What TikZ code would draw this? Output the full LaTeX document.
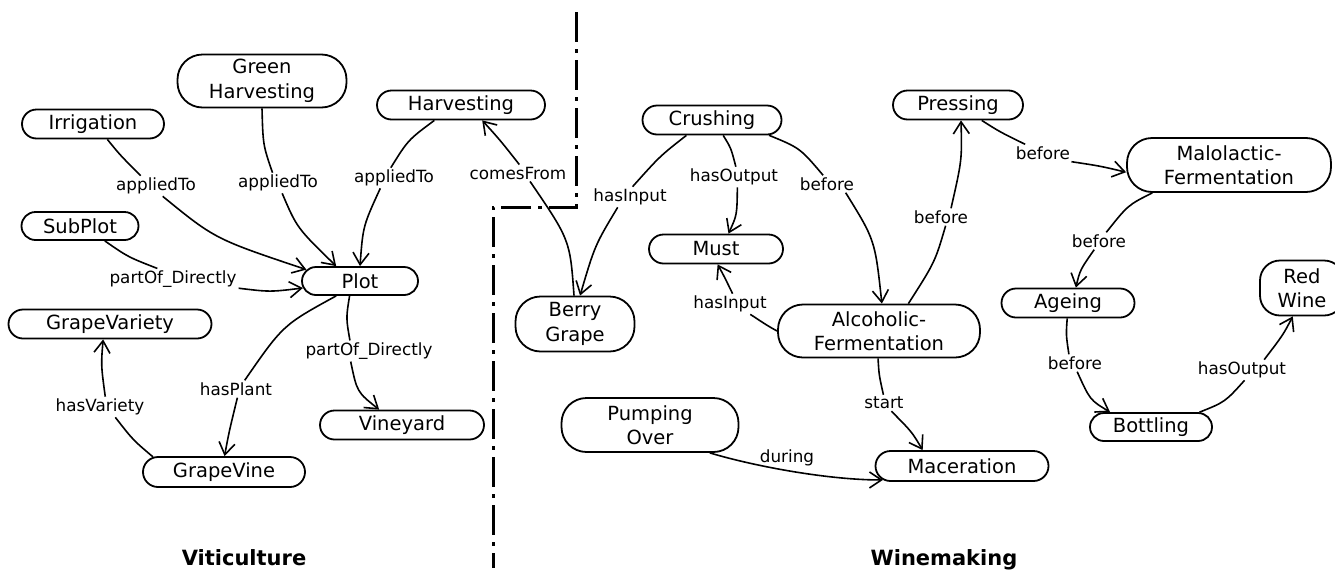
\documentclass[tikz,border=0pt]{standalone}
\usepackage{fontspec}
\setmainfont{DejaVu Sans}
\usetikzlibrary{arrows.meta,shapes.misc}
\begin{document}
\begin{tikzpicture}[x=1pt,y=-1pt,
  nd/.style={draw,line width=1.8pt,rounded rectangle,minimum height=29pt,inner sep=0pt,font=\fontsize{19.5}{24.5}\selectfont},
  ndd/.style={draw,line width=1.8pt,rectangle,rounded corners=25pt,minimum height=54pt,inner sep=0pt,align=center,font=\fontsize{19.5}{24.5}\selectfont},
  lbl/.style={inner sep=2pt,font=\fontsize{16.8}{20}\selectfont},
  cline/.style={line width=1.6pt},
  arr/.style={line width=1.6pt,-{Straight Barb[length=12pt,width=16pt]}},
  divider/.style={line width=3pt,dash pattern=on 30pt off 7pt on 4pt off 7pt},
  ttl/.style={font=\bfseries\fontsize{21}{25}\selectfont}]
\useasboundingbox (0,0) rectangle (1335,571);
\clip (0,0) rectangle (1335,571);

% nodes
\node[nd, minimum width=142pt] (irr) at (93,124) {Irrigation};
\node[ndd, minimum width=169pt, minimum height=53pt] (gh) at (262,81) {Green\\Harvesting};
\node[nd, minimum width=168pt] (harv) at (461,105) {Harvesting};
\node[nd, minimum width=117pt, minimum height=28pt] (sub) at (80,226) {SubPlot};
\node[nd, minimum width=116pt, minimum height=28pt] (plot) at (360,281) {Plot};
\node[nd, minimum width=203pt] (gvar) at (110,324) {GrapeVariety};
\node[nd, minimum width=162pt, minimum height=30pt] (gvine) at (224,472) {GrapeVine};
\node[nd, minimum width=164pt] (vine) at (402,425) {Vineyard};
\node[ndd, minimum width=119pt, minimum height=55pt] (berry) at (575,324) {Berry\\Grape};
\node[nd, minimum width=139pt] (crush) at (712,120) {Crushing};
\node[nd, minimum width=134pt] (must) at (716,249) {Must};
\node[nd, minimum width=130pt] (press) at (958,105) {Pressing};
\node[ndd, minimum width=204pt] (malo) at (1229,165) {Malolactic-\\Fermentation};
\node[ndd, minimum width=202pt, minimum height=53pt] (alc) at (879,331) {Alcoholic-\\Fermentation};
\node[nd, minimum width=133pt] (age) at (1068,303) {Ageing};
\node[ndd, minimum width=84pt, minimum height=55pt, rounded corners=20pt] (red) at (1302,288) {Red\\Wine};
\node[nd, minimum width=122pt, minimum height=28pt] (bott) at (1151,427) {Bottling};
\node[ndd, minimum width=177pt] (pump) at (650,425) {Pumping\\Over};
\node[nd, minimum width=173pt, minimum height=30pt] (mac) at (962,466) {Maceration};

% labels
\node[lbl] (l1) at (156,186) {appliedTo};
\node[lbl] (l2) at (278,183) {appliedTo};
\node[lbl] (l3) at (394,178) {appliedTo};
\node[lbl] (l4) at (173,279) {partOf\_Directly};
\node[lbl] (l5) at (236,389) {hasPlant};
\node[lbl] (l6) at (369,351) {partOf\_Directly};
\node[lbl] (l7) at (100,407) {hasVariety};
\node[lbl] (l8) at (518,173) {comesFrom};
\node[lbl] (l9) at (630,197) {hasInput};
\node[lbl] (l10) at (734,177) {hasOutput};
\node[lbl] (l11) at (827,184) {before};
\node[lbl] (l12) at (730,304) {hasInput};
\node[lbl] (l13) at (941,217) {before};
\node[lbl] (l14) at (1043,153) {before};
\node[lbl] (l15) at (1099,241) {before};
\node[lbl] (l16) at (1075,363) {before};
\node[lbl] (l17) at (1242,370) {hasOutput};
\node[lbl] (l18) at (884,403) {start};
\node[lbl] (l19) at (787,458) {during};

% edges
\draw[cline] (irr.-47) .. controls (120,155) .. (l1.146);
\draw[arr] (l1.-57) .. controls (215,239) .. (plot.168);

\draw[cline] (gh.-90) .. controls (263,145) .. (l2.118);
\draw[arr] (l2.-68) .. controls (297,228) .. (plot.148);

\draw[cline] (harv.210) .. controls (408,140) .. (l3.107);
\draw[arr] (l3.217) .. controls (363,226) .. (plot.90);

\draw[cline] (sub.-31) .. controls (128,257) .. (l4.146);
\draw[arr] (l4.-8) .. controls (270,292) .. (plot.187);

\draw[cline] (plot.212) .. controls (283,325) .. (l5.45);
\draw[arr] (l5.-81) .. controls (229,432) .. (gvine.88);

\draw[cline] (plot.235) .. controls (346,318) .. (l6.151);
\draw[arr] (l6.210) .. controls (357,392) .. (vine.146);

\draw[cline] (gvine.168) .. controls (133,440) .. (l7.-34);
\draw[arr] (l7.63) .. controls (101,365) .. (gvar.-114);

\draw[cline] (berry.92) .. controls (570,240) .. (l8.-35);
\draw[arr] (l8.81) .. controls (500,140) .. (harv.-36);

\draw[cline] (crush.211) .. controls (660,156) .. (l9.76);
\draw[arr] (l9.220) .. controls (595,245) .. (berry.80);

\draw[cline] (crush.-54) .. controls (731,148) .. (l10.80);
\draw[arr] (l10.-72) .. controls (737,215) .. (must.51);

\draw[cline] (crush.-15) .. controls (800,148) .. (l11.114);
\draw[arr] (l11.-25) .. controls (875,240) .. (alc.84);

\draw[cline] (alc.180) .. controls (768,326) .. (l12.-27);
\draw[arr] (l12.76) .. controls (724,276) .. (must.-84);

\draw[cline] (alc.43) .. controls (935,262) .. (l13.-62);
\draw[arr] (l13.41) .. controls (962,160) .. (press.-79);

\draw[cline] (press.-33) .. controls (1000,132) .. (l14.154);
\draw[arr] (l14.-17) .. controls (1100,166) .. (malo.184);

\draw[cline] (malo.200) .. controls (1128,205) .. (l15.50);
\draw[arr] (l15.241) .. controls (1080,270) .. (age.63);

\draw[cline] (age.-93) .. controls (1066,335) .. (l16.125);
\draw[arr] (l16.-76) .. controls (1090,400) .. (bott.160);

\draw[cline] (bott.17) .. controls (1225,402) .. (l17.-76);
\draw[arr] (l17.25) .. controls (1283,335) .. (red.-108);

\draw[cline] (alc.-92) .. controls (879,375) .. (l18.94);
\draw[arr] (l18.-48) .. controls (912,432) .. (mac.158);

\draw[arr] (pump.-25) .. controls (757,467) and (830,480) .. (mac.190);

% divider
\draw[divider] (576,12) -- (576,207) -- (493,207) -- (493,568);

% titles
\node[ttl] (t1) at (244,558) {Viticulture};
\node[ttl] (t2) at (944,560) {Winemaking};
\end{tikzpicture}
\end{document}
